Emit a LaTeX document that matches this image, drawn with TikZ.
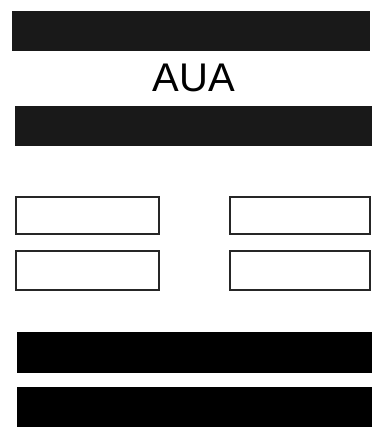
\documentclass[tikz,border=0pt]{standalone}
\usepackage{fontspec}
\setmainfont{Liberation Sans}
\begin{document}
\begin{tikzpicture}[x=1pt,y=-1pt,
  bar/.style={fill=black!90,draw=black!90},
  solidbar/.style={fill=black,draw=black},
  slot/.style={draw=black!85,line width=2.2pt,fill=white}]
\useasboundingbox (0,0) rectangle (371,427);
\fill[white] (0,0) rectangle (371,427);
\path[bar] (12,11) rectangle (369,50);
\node (t) at (194,78) {\fontsize{40}{40}\selectfont AUA};
\path[bar] (15,106) rectangle (371,145);
\node[slot,minimum width=143pt,minimum height=37pt,inner sep=0pt,anchor=north west] (b1) at (15,196) {};
\node[slot,minimum width=143pt,minimum height=39pt,inner sep=0pt,anchor=north west] (b2) at (15,250) {};
\node[slot,minimum width=140pt,minimum height=37pt,inner sep=0pt,anchor=north west] (b3) at (229,196) {};
\node[slot,minimum width=140pt,minimum height=39pt,inner sep=0pt,anchor=north west] (b4) at (229,250) {};
\path[solidbar] (17,332) rectangle (371,372);
\path[solidbar] (17,387) rectangle (371,428);
\end{tikzpicture}
\end{document}
